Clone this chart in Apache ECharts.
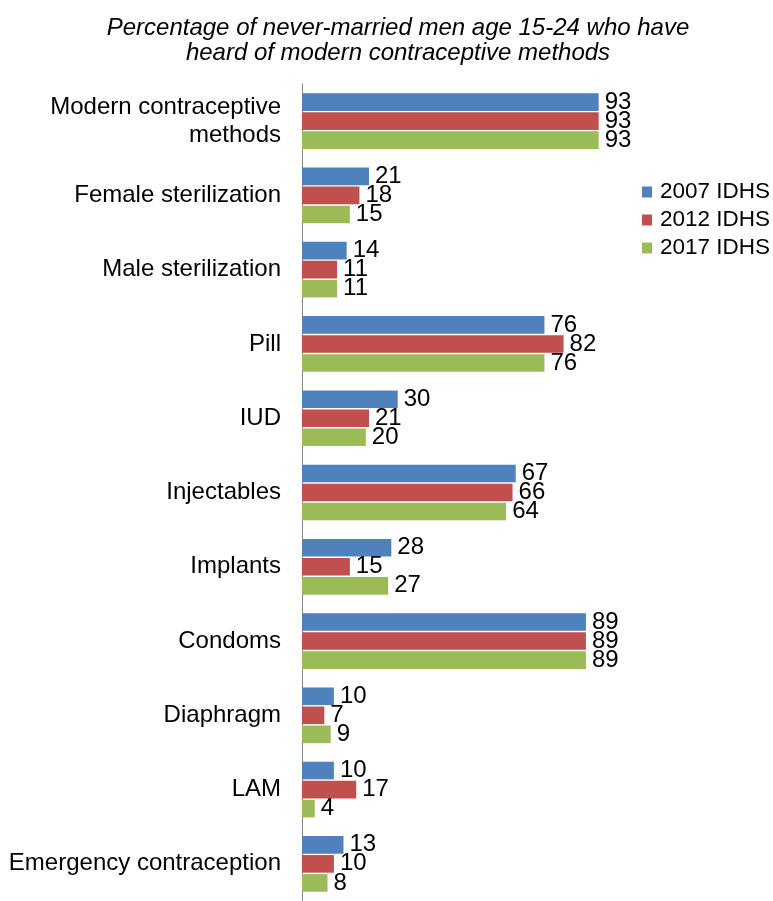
<!DOCTYPE html>
<html>
<head>
<meta charset="utf-8">
<script src="https://cdn.jsdelivr.net/npm/echarts@6/dist/echarts.min.js"></script>
<style>
  html, body { margin: 0; padding: 0; background: #fff; }
  #chart { width: 773px; height: 901px; }
</style>
</head>
<body>
<div id="chart"></div>
<script>
const categories = [
  'Modern contraceptive\nmethods',
  'Female sterilization',
  'Male sterilization',
  'Pill',
  'IUD',
  'Injectables',
  'Implants',
  'Condoms',
  'Diaphragm',
  'LAM',
  'Emergency contraception'
];
const seriesNames = ['2007 IDHS', '2012 IDHS', '2017 IDHS'];
const idhs2007 = [93, 21, 14, 76, 30, 67, 28, 89, 10, 10, 13];
const idhs2012 = [93, 18, 11, 82, 21, 66, 15, 89, 7, 17, 10];
const idhs2017 = [93, 15, 11, 76, 20, 64, 27, 89, 9, 4, 8];
const colors = ['#4F81BD', '#C0504D', '#9BBB59'];

const font = 'Liberation Sans, Arial, sans-serif';
const chart = echarts.init(document.getElementById('chart'));

function makeSeries(name, data, color) {
  return {
    name: name,
    type: 'bar',
    data: data,
    barGap: '8%',
    barCategoryGap: '25%',
    itemStyle: { color: color },
    label: {
      show: true,
      position: 'right',
      distance: 6,
      color: '#000',
      fontFamily: font,
      fontSize: 24
    }
  };
}

chart.setOption({
  animation: false,
  title: {
    text: 'Percentage of never-married men age 15-24 who have\nheard of modern contraceptive methods',
    left: 393,
    textAlign: 'center',
    top: 11,
    textStyle: {
      fontFamily: font,
      fontStyle: 'italic',
      fontWeight: 'normal',
      fontSize: 24,
      lineHeight: 25,
      color: '#000'
    }
  },
  legend: {
    orient: 'vertical',
    left: 637,
    top: 175,
    itemWidth: 10,
    itemHeight: 11,
    itemGap: 4,
    icon: 'rect',
    data: seriesNames,
    textStyle: {
      fontFamily: font,
      fontSize: 22.5,
      lineHeight: 24,
      color: '#000',
      padding: [0, 0, 0, 3]
    }
  },
  grid: {
    left: 302,
    top: 84,
    width: 319,
    height: 821
  },
  xAxis: {
    type: 'value',
    min: 0,
    max: 100,
    show: false
  },
  yAxis: {
    type: 'category',
    inverse: true,
    data: categories,
    axisLine: { lineStyle: { color: '#868686', width: 1 } },
    axisTick: { show: false },
    axisLabel: {
      margin: 21,
      fontFamily: font,
      fontSize: 24,
      lineHeight: 28,
      color: '#000',
      align: 'right'
    }
  },
  series: [
    makeSeries(seriesNames[0], idhs2007, colors[0]),
    makeSeries(seriesNames[1], idhs2012, colors[1]),
    makeSeries(seriesNames[2], idhs2017, colors[2])
  ]
});
</script>
</body>
</html>
